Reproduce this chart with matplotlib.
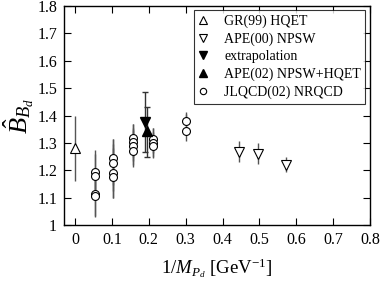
import matplotlib
matplotlib.use('Agg')
import matplotlib.pyplot as plt

plt.rcParams.update({
    'font.family': 'Liberation Serif',
    'mathtext.fontset': 'custom',
    'mathtext.rm': 'Liberation Serif',
    'mathtext.it': 'Liberation Serif:italic',
    'mathtext.bf': 'Liberation Serif:bold',
})

# ---- data ----
gr99_x = [0.0]
gr99_y = [1.28]
gr99_err = [0.12]

ape00_x = [0.445, 0.497, 0.573]
ape00_y = [1.268, 1.259, 1.221]
ape00_lo = [0.037, 0.036, 0.029]
ape00_hi = [0.040, 0.039, 0.028]

extrap_x = [0.189]
extrap_y = [1.377]
extrap_lo = [0.11]
extrap_hi = [0.11]

ape02_x = [0.194]
ape02_y = [1.345]
ape02_lo = [0.095]
ape02_hi = [0.085]

jlqcd_x = [0.055, 0.055, 0.055, 0.055,
           0.102, 0.102, 0.102, 0.102,
           0.157, 0.157, 0.157, 0.157,
           0.211, 0.211, 0.211,
           0.302, 0.302]
jlqcd_y = [1.195, 1.180, 1.112, 1.106,
           1.245, 1.225, 1.190, 1.176,
           1.318, 1.305, 1.288, 1.270,
           1.313, 1.300, 1.290,
           1.381, 1.344]
jlqcd_lo = [0.08, 0.08, 0.08, 0.076,
            0.10, 0.10, 0.09, 0.076,
            0.07, 0.07, 0.07, 0.057,
            0.05, 0.05, 0.044,
            0.04, 0.037]
jlqcd_hi = [0.08, 0.08, 0.08, 0.076,
            0.07, 0.07, 0.09, 0.14,
            0.05, 0.05, 0.06, 0.10,
            0.04, 0.04, 0.063,
            0.033, 0.06]

fig = plt.figure(figsize=(3.82, 2.87), dpi=100)
ax = fig.add_axes([0.1675, 0.216, 0.801, 0.763])

ax.errorbar(jlqcd_x, jlqcd_y, yerr=[jlqcd_lo, jlqcd_hi], fmt='o', ms=5.7,
            mfc='white', mec='black', mew=0.8, ecolor='#555555', elinewidth=1.0,
            capsize=0, label='JLQCD(02) NRQCD', zorder=3)
ax.errorbar(gr99_x, gr99_y, yerr=gr99_err, fmt='^', ms=6.5,
            mfc='white', mec='black', mew=0.8, ecolor='#555555', elinewidth=1.0,
            capsize=0, label='GR(99) HQET', zorder=3)
ax.errorbar(ape00_x, ape00_y, yerr=[ape00_lo, ape00_hi], fmt='v', ms=6.5,
            mfc='white', mec='black', mew=0.8, ecolor='#555555', elinewidth=1.0,
            capsize=0, label='APE(00) NPSW', zorder=3)
ax.errorbar(extrap_x, extrap_y, yerr=[extrap_lo, extrap_hi], fmt='v', ms=6.5,
            mfc='black', mec='black', ecolor='#333333', elinewidth=1.0,
            capsize=2, capthick=1.0, label='extrapolation', zorder=4)
ax.errorbar(ape02_x, ape02_y, yerr=[ape02_lo, ape02_hi], fmt='^', ms=6.5,
            mfc='black', mec='black', ecolor='#333333', elinewidth=1.0,
            capsize=2, capthick=1.0, label='APE(02) NPSW+HQET', zorder=4)

ax.set_xlim(-0.03, 0.8)
ax.set_ylim(1.0, 1.8)
ax.set_xticks([0, 0.1, 0.2, 0.3, 0.4, 0.5, 0.6, 0.7, 0.8])
ax.set_xticklabels(['0', '0.1', '0.2', '0.3', '0.4', '0.5', '0.6', '0.7', '0.8'])
ax.set_yticks([1.0, 1.1, 1.2, 1.3, 1.4, 1.5, 1.6, 1.7, 1.8])
ax.set_yticklabels(['1', '1.1', '1.2', '1.3', '1.4', '1.5', '1.6', '1.7', '1.8'])
ax.tick_params(direction='in', length=5, width=0.8, top=True, right=True,
               labelsize=11.5, pad=5)
for s in ax.spines.values():
    s.set_linewidth(1.0)

ax.set_xlabel(r'$\mathit{1/M_{P_d}}$ [GeV$^{-1}$]', fontsize=13.5, labelpad=6)
ax.set_ylabel(r'$\hat{B}_{B_d}$', fontsize=19, labelpad=1)

handles, labels = ax.get_legend_handles_labels()
order = ['GR(99) HQET', 'APE(00) NPSW', 'extrapolation', 'APE(02) NPSW+HQET', 'JLQCD(02) NRQCD']
hmap = dict(zip(labels, handles))
leg = ax.legend([hmap[k][0] for k in order], order, loc='upper right',
                bbox_to_anchor=(0.984, 0.982), fontsize=10, frameon=True,
                fancybox=False, edgecolor='black', handlelength=0.8,
                handletextpad=1.1, labelspacing=0.33, borderpad=0.3,
                borderaxespad=0, markerscale=0.8)
leg.get_frame().set_linewidth(0.8)

fig.savefig('out.png', dpi=100, facecolor='white')
